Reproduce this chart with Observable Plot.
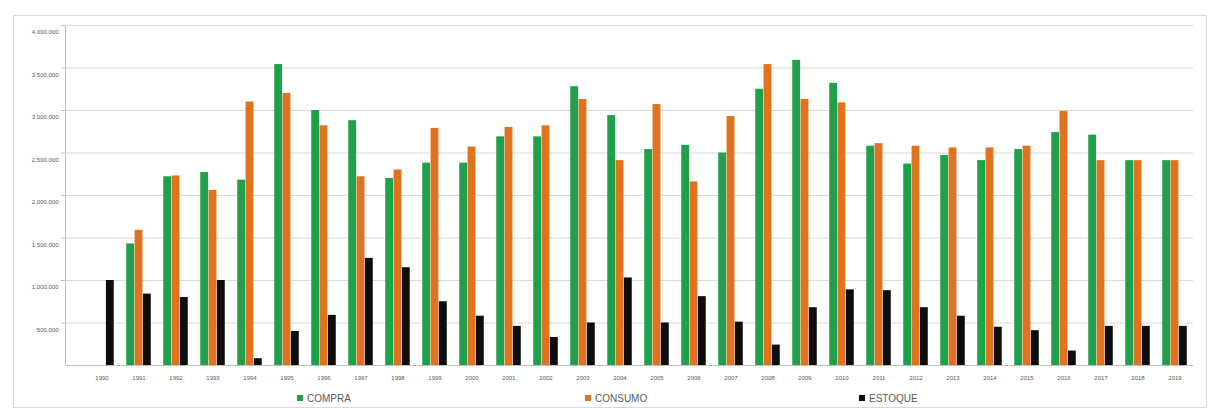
<!DOCTYPE html>
<html>
<head>
<meta charset="utf-8">
<script src="https://cdn.jsdelivr.net/npm/d3@7"></script>
<script src="https://cdn.jsdelivr.net/npm/@observablehq/plot@0.6"></script>
<style>
  html, body { margin: 0; padding: 0; background: #fff; }
  body { font-family: "Liberation Sans", Arial, sans-serif; }
  #box {
    position: absolute; left: 13px; top: 15px;
    width: 1192px; height: 391px;
    border: 1px solid #d9d9d9; background: #fff;
  }
  #chart svg { display: block; color: #bfbfbf; }
  #chart svg text { fill: #595959; font-size: 6px; }
  #legend {
    position: relative; height: 20px; margin-top: 4px;
    font-size: 10px; color: #595959; white-space: nowrap;
    padding-left: 283px; line-height: 20px;
  }
  #legend span.item { display: inline-block; }
  #legend span.sw {
    display: inline-block; width: 6px; height: 6px;
    margin-right: 4px; vertical-align: 1px;
  }
</style>
</head>
<body>
<div id="box">
  <div id="chart"></div>
  <div id="legend"></div>
</div>
<script>
// Anos (categorias do eixo X)
const years = ["1990","1991","1992","1993","1994","1995","1996","1997","1998","1999",
               "2000","2001","2002","2003","2004","2005","2006","2007","2008","2009",
               "2010","2011","2012","2013","2014","2015","2016","2017","2018","2019"];

// Séries
const series = ["COMPRA", "CONSUMO", "ESTOQUE"];
const colors = ["#1fa04b", "#e0731f", "#0d0d0d"];

const compra = [null, 1430000, 2220000, 2270000, 2180000, 3540000, 3000000, 2880000, 2200000, 2380000,
                2380000, 2690000, 2690000, 3280000, 2940000, 2540000, 2590000, 2500000, 3250000, 3590000,
                3320000, 2580000, 2370000, 2470000, 2410000, 2540000, 2740000, 2710000, 2410000, 2410000];
const consumo = [null, 1590000, 2230000, 2060000, 3100000, 3200000, 2820000, 2220000, 2300000, 2790000,
                 2570000, 2800000, 2820000, 3130000, 2410000, 3070000, 2160000, 2930000, 3540000, 3130000,
                 3090000, 2610000, 2580000, 2560000, 2560000, 2580000, 2990000, 2410000, 2410000, 2410000];
const estoque = [1000000, 840000, 800000, 1000000, 80000, 400000, 590000, 1260000, 1150000, 750000,
                 580000, 460000, 330000, 500000, 1030000, 500000, 810000, 510000, 240000, 680000,
                 890000, 880000, 680000, 580000, 450000, 410000, 170000, 460000, 460000, 460000];

// Marcas do eixo Y
const yTicks = [500000, 1000000, 1500000, 2000000, 2500000, 3000000, 3500000, 4000000];

const data = years.map((year, i) => ({year, compra: compra[i], consumo: consumo[i], estoque: estoque[i]}));

const fmt = d3.formatLocale({decimal: ",", thousands: ".", grouping: [3], currency: ["R$", ""]}).format(",");

// Largura de cada barra e deslocamento dentro do grupo de três
const W = 1192, ML = 51, MR = 13;
const step = (W - ML - MR) / (years.length + 0.106);
const bw = 8.33;
const lead = (step - 3 * bw) / 2;
const inset = k => ({insetLeft: lead + k * bw, insetRight: step - lead - (k + 1) * bw});

const chart = Plot.plot({
  width: W,
  height: 369,
  marginLeft: ML,
  marginRight: MR,
  marginTop: 9,
  marginBottom: 20,
  style: {fontFamily: "Liberation Sans, Arial, sans-serif", background: "transparent"},
  x: {
    domain: years, type: "band", paddingInner: 0, paddingOuter: 0.053, align: 1,
    label: null, tickSize: 0, tickPadding: 10
  },
  y: {
    domain: [0, 4000000], ticks: yTicks, tickFormat: fmt, label: null,
    tickSize: 4, tickPadding: 3, line: true
  },
  marks: [
    Plot.ruleY(yTicks, {stroke: "#d9d9d9"}),
    Plot.barY(data, {x: "year", y: "compra", fill: colors[0], ...inset(0)}),
    Plot.barY(data, {x: "year", y: "consumo", fill: colors[1], ...inset(1)}),
    Plot.barY(data, {x: "year", y: "estoque", fill: colors[2], ...inset(2)}),
    Plot.ruleY([0], {stroke: "#bfbfbf"})
  ]
});

// rótulos do eixo Y um pouco abaixo da linha de grade
chart.querySelectorAll("g[aria-label='y-axis'] text, g[aria-label='y-axis tick label'] text").forEach(t => {
  t.setAttribute("dy", "7");
});

document.getElementById("chart").appendChild(chart);

// Legenda
const widths = [288, 274, 0];
const legend = document.getElementById("legend");
series.forEach((s, i) => {
  const item = document.createElement("span");
  item.className = "item";
  if (widths[i]) item.style.width = widths[i] + "px";
  const sw = document.createElement("span");
  sw.className = "sw";
  sw.style.background = colors[i];
  item.appendChild(sw);
  item.appendChild(document.createTextNode(s));
  legend.appendChild(item);
});
</script>
</body>
</html>
